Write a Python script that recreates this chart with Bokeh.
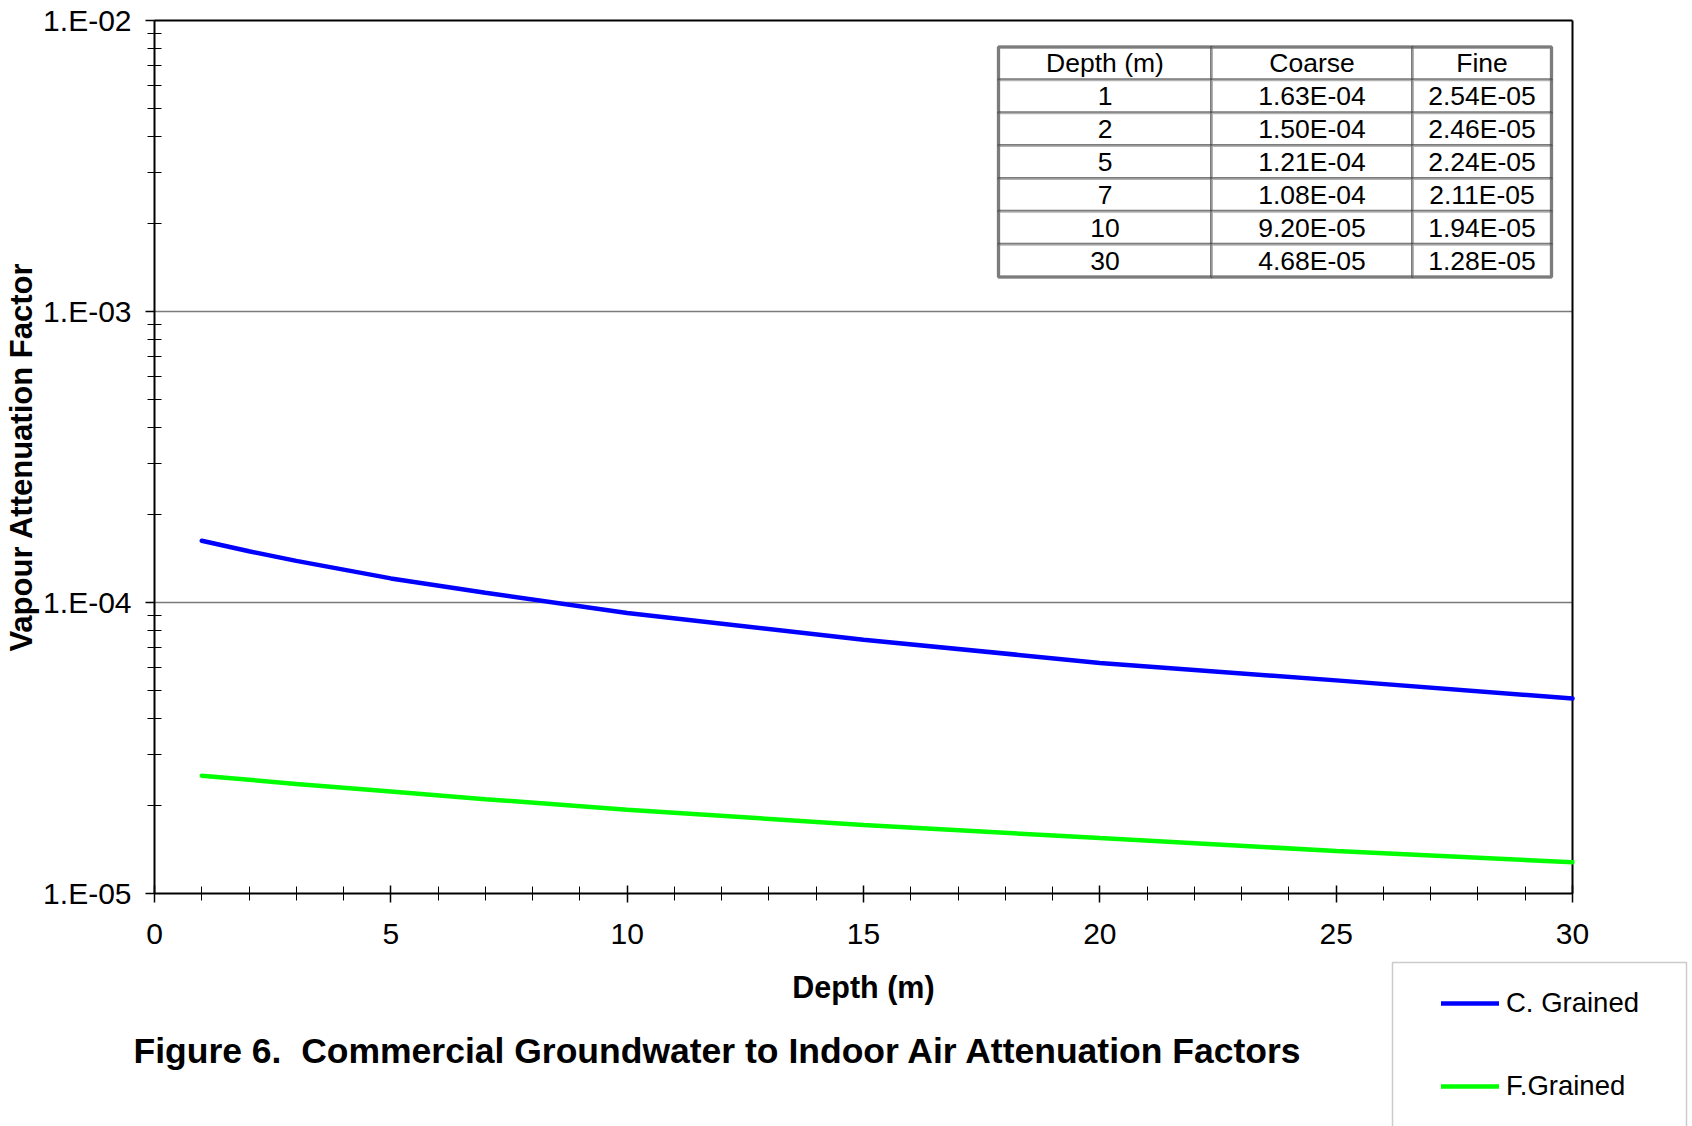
from bokeh.plotting import figure
from bokeh.models import (Range1d, FixedTicker, CustomJSTickFormatter, Legend,
                          LegendItem, Label, BoxAnnotation)
from bokeh.embed import file_html
from bokeh.resources import INLINE
import math

# ---------------- data ----------------
depth = [1, 2, 3, 5, 7, 10, 15, 20, 25, 30]
coarse = [1.63e-4, 1.50e-4, 1.39e-4, 1.21e-4, 1.08e-4, 9.20e-5, 7.45e-5, 6.20e-5, 5.40e-5, 4.68e-5]
fine = [2.54e-5, 2.46e-5, 2.38e-5, 2.24e-5, 2.11e-5, 1.94e-5, 1.72e-5, 1.55e-5, 1.40e-5, 1.28e-5]

table_depths = [1, 2, 5, 7, 10, 30]
table_header = ["Depth (m)", "Coarse", "Fine"]

series_names = ["C. Grained", "F.Grained"]
series_colors = ["#0000FF", "#00FF00"]
title_text = "Figure 6.\u00a0 Commercial Groundwater to Indoor Air Attenuation Factors"
x_title = "Depth (m)"
y_title = "Vapour Attenuation Factor"

x_lim = (0, 30)
y_lim = (1e-5, 1e-2)
y_ticks = [1e-5, 1e-4, 1e-3, 1e-2]
y_tick_labels = ["1.E-05", "1.E-04", "1.E-03", "1.E-02"]
y_minor = [m * 10.0 ** e for e in (-5, -4, -3) for m in range(2, 10)]
x_ticks = [0, 5, 10, 15, 20, 25, 30]
x_minor = list(range(0, 31))

# ---------------- page geometry (px) ----------------
FONT = "Liberation Sans"
W, H = 1692, 1126
PL, PR, PT, PB = 154, 1572, 20, 893     # plot-area box on the page

# the frame covers the whole page; ranges are chosen so the data box lands on PL..PR, PT..PB
xs = (PR - PL) / (x_lim[1] - x_lim[0])
ly0, ly1 = math.log10(y_lim[0]), math.log10(y_lim[1])
ys = (PB - PT) / (ly1 - ly0)
x_range = Range1d(x_lim[0] - PL / xs, x_lim[1] + (W - PR) / xs)
y_range = Range1d(10 ** (ly0 - (H - PB) / ys), 10 ** (ly1 + PT / ys))


def sx(px):
    return px


def sy(py):
    return H - py


p = figure(width=W, height=H, x_range=x_range, y_range=y_range,
           y_axis_type="log", output_backend="svg", toolbar_location=None,
           min_border=0, min_border_left=0, min_border_right=0,
           min_border_top=0, min_border_bottom=0)
p.background_fill_color = "white"
p.border_fill_color = "white"
p.outline_line_color = None
p.xgrid.visible = False
p.ygrid.visible = False

yax = p.yaxis[0]
yax.fixed_location = x_lim[0]
yax.bounds = y_lim
yax.ticker = FixedTicker(ticks=y_ticks, minor_ticks=y_minor)
yax.formatter = CustomJSTickFormatter(
    args=dict(vals=y_ticks, labs=y_tick_labels),
    code="""
    for (let i = 0; i < vals.length; i++) {
        if (Math.abs(Math.log10(vals[i]) - Math.log10(tick)) < 1e-6) return labs[i];
    }
    return '';
    """)
yax.axis_line_width = 2
yax.major_tick_out = 9
yax.major_tick_in = 0
yax.minor_tick_in = 7
yax.minor_tick_out = 7
yax.major_tick_line_width = 1.5
yax.minor_tick_line_width = 1
yax.major_label_text_font = FONT
yax.major_label_text_font_size = "30px"
yax.major_label_text_color = "black"
yax.major_label_standoff = 14
yax.axis_label = y_title
yax.axis_label_text_font = FONT
yax.axis_label_text_font_style = "bold"
yax.axis_label_text_font_size = "31px"
yax.axis_label_text_color = "black"
yax.axis_label_standoff = 1

xax = p.xaxis[0]
xax.fixed_location = y_lim[0]
xax.bounds = x_lim
xax.ticker = FixedTicker(ticks=x_ticks, minor_ticks=x_minor)
xax.axis_line_width = 2
xax.major_tick_in = 8
xax.major_tick_out = 9
xax.minor_tick_in = 7
xax.minor_tick_out = 7
xax.major_tick_line_width = 1.5
xax.minor_tick_line_width = 1
xax.major_label_text_font = FONT
xax.major_label_text_font_size = "30px"
xax.major_label_text_color = "black"
xax.major_label_standoff = 21
xax.axis_label = x_title
xax.axis_label_text_font = FONT
xax.axis_label_text_font_style = "bold"
xax.axis_label_text_font_size = "30.5px"
xax.axis_label_text_color = "black"
xax.axis_label_standoff = 23

# grid lines at the inner decades, and the top / right border of the plot area
inner = y_ticks[1:-1]
p.segment(x0=[x_lim[0]] * len(inner), y0=inner, x1=[x_lim[1]] * len(inner), y1=inner,
          line_color="#7a7a7a", line_width=1.5)
p.segment(x0=[x_lim[0], x_lim[1]], y0=[y_lim[1], y_lim[0]],
          x1=[x_lim[1], x_lim[1]], y1=[y_lim[1], y_lim[1]],
          line_color="black", line_width=2)

# ---------------- lines ----------------
r1 = p.line(depth, coarse, line_color=series_colors[0], line_width=4.5, line_cap="round")
r2 = p.line(depth, fine, line_color=series_colors[1], line_width=4.5, line_cap="round")

# ---------------- table ----------------
col_edges = [998, 1211, 1412, 1551]
row_top, row_h = 46.5, 32.86
rows = [table_header]
for d in table_depths:
    i = depth.index(d)
    rows.append([str(d), f"{coarse[i]:.2E}", f"{fine[i]:.2E}"])

for ri, row in enumerate(rows):
    top = row_top + ri * row_h
    bot = top + row_h
    for ci, txt in enumerate(row):
        p.add_layout(BoxAnnotation(left=sx(col_edges[ci]), right=sx(col_edges[ci + 1]),
                                   top=sy(top), bottom=sy(bot),
                                   left_units="screen", right_units="screen",
                                   top_units="screen", bottom_units="screen",
                                   fill_color="white", fill_alpha=1,
                                   line_color="black", line_width=3))
p.add_layout(BoxAnnotation(left=sx(col_edges[0]), right=sx(col_edges[-1]),
                           top=sy(row_top), bottom=sy(row_top + len(rows) * row_h),
                           left_units="screen", right_units="screen",
                           top_units="screen", bottom_units="screen",
                           fill_alpha=0, line_color="black", line_width=3.5))
for ri, row in enumerate(rows):
    cy = row_top + (ri + 0.5) * row_h
    for ci, txt in enumerate(row):
        cx = (col_edges[ci] + col_edges[ci + 1]) / 2
        p.add_layout(Label(x=sx(cx), y=sy(cy), x_units="screen", y_units="screen",
                           text=txt, text_font=FONT, text_font_size="26.5px",
                           text_color="black", text_align="center",
                           text_baseline="middle"))

# ---------------- figure title ----------------
p.add_layout(Label(x=sx(133), y=sy(1050), x_units="screen", y_units="screen",
                   text=title_text, text_font=FONT, text_font_style="bold",
                   text_font_size="35.5px", text_color="black",
                   text_align="left", text_baseline="middle"))

# ---------------- legend ----------------
p.add_layout(BoxAnnotation(left=sx(1392), right=sx(1686), top=sy(962), bottom=sy(1300),
                           left_units="screen", right_units="screen",
                           top_units="screen", bottom_units="screen",
                           fill_alpha=0, line_color="#555555", line_width=1.5))
legend = Legend(items=[LegendItem(label=series_names[0], renderers=[r1]),
                       LegendItem(label=series_names[1], renderers=[r2])],
                location=(sx(1420), sy(1127)), margin=0, padding=21,
                glyph_width=58, glyph_height=40, label_height=40, spacing=43,
                label_standoff=7, label_text_font=FONT, label_text_font_size="27.5px",
                label_text_color="black", border_line_alpha=0,
                background_fill_alpha=0)
p.add_layout(legend)

open("out.html", "w").write(file_html(p, INLINE))
